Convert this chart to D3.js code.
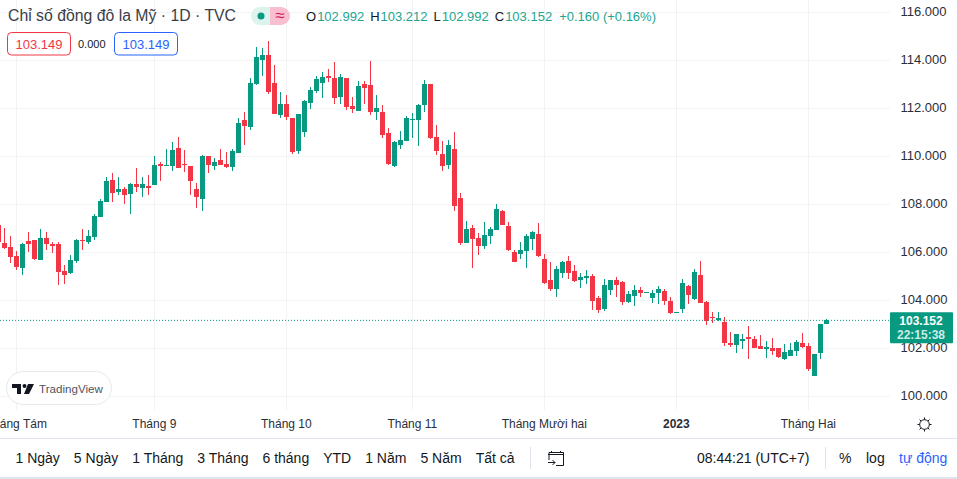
<!DOCTYPE html>
<html>
<head>
<meta charset="utf-8">
<script src="https://cdn.jsdelivr.net/npm/d3@7"></script>
<style>
html, body { margin: 0; padding: 0; background: #fff; overflow: hidden; }
svg { display: block; font-family: "Liberation Sans", Arial, sans-serif; }
</style>
</head>
<body>
<svg id="canvas"></svg>
<script>
let opens = [107.13,106.38,106.21,105.83,105.33,106.46,106.50,105.67,106.58,106.33,106.33,105.21,105.13,105.63,106.50,106.42,106.63,107.46,108.08,109.00,
108.50,108.63,108.42,108.83,108.67,108.75,108.79,109.67,109.58,109.58,110.33,109.67,109.58,108.63,108.21,110.00,109.58,109.83,109.67,109.54,
110.13,111.50,111.21,113.00,114.00,114.21,113.04,111.71,112.17,111.58,110.21,111.00,112.21,112.71,113.04,113.33,113.25,112.46,113.25,112.08,
111.88,113.00,112.96,111.83,111.83,110.96,109.58,110.46,110.63,111.50,111.50,112.13,113.00,110.79,110.08,109.63,110.29,108.25,106.38,107.00,
106.58,106.25,106.67,106.92,107.71,107.08,106.00,105.92,106.04,106.54,106.75,105.71,104.83,104.46,105.13,105.63,105.21,104.83,104.92,105.00,
104.08,103.63,104.42,104.83,104.75,103.92,104.17,104.42,104.29,104.08,104.29,104.38,103.96,103.46,103.63,104.58,104.04,105.04,103.92,103.29,
103.17,103.08,102.21,102.13,102.29,102.46,102.38,102.08,101.96,102.00,102.00,101.54,101.67,101.88,102.21,102.08,100.83,101.79,102.992];
let highs = [107.29,107.00,106.67,106.04,106.38,106.83,106.50,106.96,106.83,106.42,106.42,105.46,105.88,106.54,106.96,106.92,107.58,108.21,109.13,109.29,
109.13,108.71,108.88,109.50,109.13,109.21,110.00,109.75,110.29,110.58,110.79,110.25,109.58,108.88,110.04,110.00,109.92,110.29,110.17,110.29,
111.58,111.83,113.25,114.54,114.50,114.79,113.79,112.67,112.54,111.58,111.75,112.33,112.88,113.33,113.50,113.63,113.92,113.42,113.25,112.46,
113.13,113.13,113.96,112.54,112.13,111.17,110.63,111.04,111.67,111.79,112.17,113.17,113.00,111.29,110.63,110.67,111.00,108.46,107.29,107.13,
106.79,107.25,107.04,108.00,107.75,107.25,106.08,106.42,106.75,106.88,107.21,105.92,105.58,105.42,105.63,105.83,105.46,105.13,105.25,105.08,
104.17,104.88,104.83,104.96,104.79,104.38,104.63,104.54,104.33,104.42,104.58,104.46,104.13,103.50,104.88,104.63,105.29,105.63,103.96,103.50,
103.50,103.29,102.67,102.58,102.58,102.92,102.50,102.54,102.29,102.42,102.00,102.17,102.21,102.33,102.63,102.21,101.75,103.00,103.212];
let lows = [106.25,106.11,105.54,105.25,105.04,106.00,105.67,105.67,106.08,105.96,104.63,104.67,105.08,105.54,106.08,106.33,106.50,107.46,108.08,108.08,
108.38,108.00,107.58,108.50,108.29,108.38,108.79,108.96,109.58,109.38,109.50,109.33,108.38,107.83,107.71,109.29,109.42,109.63,109.50,109.38,
110.13,110.46,111.08,112.96,113.33,112.58,111.75,111.58,111.50,110.08,110.08,110.79,111.96,112.63,112.42,113.08,112.17,112.17,111.92,111.79,
111.88,112.17,111.71,111.50,110.75,109.63,109.54,110.29,110.63,110.75,110.42,111.83,110.71,110.04,109.38,109.46,107.71,106.29,106.38,105.33,
105.88,106.13,106.33,106.92,107.13,106.04,105.58,105.71,105.33,106.08,105.79,104.67,104.38,104.13,104.92,104.88,104.75,104.50,104.67,103.58,
103.46,103.54,104.21,104.13,103.79,103.88,103.75,104.13,104.29,103.88,103.83,103.79,103.42,103.46,103.46,103.83,104.00,103.88,102.96,103.04,
103.13,102.08,102.04,101.79,101.96,101.54,102.00,101.96,101.58,101.71,101.58,101.50,101.67,101.67,102.00,101.04,100.83,101.54,102.992];
let closes = [106.40,106.17,105.79,105.38,106.33,106.33,105.71,106.58,106.33,106.25,105.17,105.04,105.67,106.50,106.46,106.67,107.50,108.13,108.96,108.46,
108.63,108.38,108.83,108.71,108.83,108.67,109.63,109.58,109.63,110.25,109.50,109.63,108.96,108.29,110.00,109.63,109.75,109.63,109.54,110.21,
111.38,111.25,113.04,114.13,114.21,112.67,111.75,112.17,111.63,110.17,111.75,112.29,112.75,113.21,113.29,113.25,112.42,113.29,112.04,111.96,
112.92,112.83,111.83,112.00,110.88,109.67,110.58,110.67,111.58,111.54,112.13,113.00,110.75,110.21,109.58,110.46,107.92,106.38,106.96,106.54,
106.25,106.71,106.96,107.79,107.13,106.08,105.58,106.08,106.67,106.83,105.83,104.71,104.46,105.29,105.58,105.13,104.79,104.96,105.00,103.96,
103.58,104.63,104.83,104.63,103.92,104.25,104.42,104.29,104.33,104.29,104.46,103.96,103.46,103.50,104.71,104.21,105.17,103.88,103.13,103.25,
103.25,102.21,102.13,102.58,102.38,102.38,102.00,101.96,102.04,101.88,101.63,101.83,101.92,102.25,102.04,101.13,101.75,103.00,103.152];

let priceTicks = [100,102,104,106,108,110,112,114,116];
let monthBars = [3,26,48,69,91,113,135];
let monthLabels = ['Tháng Tám','Tháng 9','Tháng 10','Tháng 11','Tháng Mười hai','2023','Tháng Hai'];
let rangeLabels = ['1 Ngày','5 Ngày','1 Tháng','3 Tháng','6 tháng','YTD','1 Năm','5 Năm','Tất cả'];
let ohlcNames = ['O','H','L','C'];
let ohlcValues = ['102.992','103.212','102.992','103.152'];
let lastPrice = 103.152;

let width = 957;
let height = 479;
let paneRight = 890;
let paneBottom = 410;

const GREEN = '#089981', RED = '#f23645', BLUE = '#2962ff', INK = '#131722', GRID = '#f2f3f5';

let svg = d3.select('#canvas').attr('width', width).attr('height', height);

let xScale = d3.scaleLinear().domain([0, 138]).range([-1.67, 826.33]);
let yScale = d3.scaleLinear().domain([100, 116]).range([396, 12]);

/*grid lines*/
let grid = svg.append('g').attr('stroke', GRID).attr('shape-rendering', 'crispEdges');
grid.selectAll('.v').data(monthBars).enter().append('line')
    .attr('x1', d => xScale(d)).attr('x2', d => xScale(d))
    .attr('y1', 0).attr('y2', paneBottom);
grid.selectAll('.h').data(priceTicks).enter().append('line')
    .attr('x1', 0).attr('x2', paneRight)
    .attr('y1', d => yScale(d)).attr('y2', d => yScale(d));

/*price and time axes*/
let yAxis = d3.axisRight(yScale).tickValues(priceTicks).tickSize(0).tickFormat(d3.format('.3f'));
let yG = svg.append('g').attr('transform', 'translate(' + (paneRight + 10.5) + ',-1)').call(yAxis);
yG.select('.domain').remove();
yG.selectAll('text').attr('x', 0).attr('font-size', 13).attr('font-family', 'inherit').attr('fill', '#2a2e39');

let xAxis = d3.axisBottom(xScale).tickValues(monthBars).tickSize(0).tickFormat((d, i) => monthLabels[i]);
let xG = svg.append('g').attr('transform', 'translate(-0.5,' + paneBottom + ')').call(xAxis);
xG.select('.domain').remove();
xG.selectAll('text').attr('y', 9).attr('font-size', 12).attr('font-family', 'inherit').attr('fill', '#2a2e39')
    .attr('font-weight', (d, i) => monthLabels[i] === '2023' ? 'bold' : 'normal');

/*candles*/
let bars = d3.range(closes.length);
let colorOf = i => closes[i] >= opens[i] ? GREEN : RED;
svg.append('g').attr('shape-rendering', 'crispEdges').selectAll('line').data(bars).enter().append('line')
    .attr('x1', i => xScale(i)).attr('x2', i => xScale(i))
    .attr('y1', i => yScale(highs[i])).attr('y2', i => yScale(lows[i]))
    .attr('stroke', colorOf).attr('stroke-width', 1);
svg.append('g').attr('shape-rendering', 'crispEdges').selectAll('rect').data(bars).enter().append('rect')
    .attr('x', i => xScale(i) - 2.5).attr('width', 5)
    .attr('y', i => yScale(Math.max(opens[i], closes[i])))
    .attr('height', i => Math.max(1, Math.abs(yScale(opens[i]) - yScale(closes[i]))))
    .attr('fill', colorOf);

/*last price line and label*/
svg.append('line').attr('x1', 0).attr('x2', paneRight)
    .attr('y1', yScale(lastPrice)).attr('y2', yScale(lastPrice))
    .attr('stroke', GREEN).attr('stroke-dasharray', '1 2');
svg.append('rect').attr('x', paneRight).attr('y', yScale(lastPrice) - 8).attr('width', 63).attr('height', 31)
    .attr('rx', 1).attr('fill', GREEN);
svg.append('text').attr('x', 921).attr('y', yScale(lastPrice) + 4.5).attr('text-anchor', 'middle')
    .attr('font-size', 12).attr('font-weight', 'bold').attr('fill', '#fff').text(d3.format('.3f')(lastPrice));
svg.append('text').attr('x', 921).attr('y', yScale(lastPrice) + 19).attr('text-anchor', 'middle')
    .attr('font-size', 12).attr('font-weight', 'bold').attr('fill', '#cdebe5').text('22:15:38');

/*legend on top*/
svg.append('text').attr('x', 8).attr('y', 21).attr('font-size', 15.8).attr('fill', '#3a3e49')
    .text('Chỉ số đồng đô la Mỹ · 1D · TVC');

svg.append('path').attr('fill', '#dcf3ee')
    .attr('d', 'M270 7H260a9 9 0 0 0 0 18H270Z');
svg.append('path').attr('fill', '#f9bfd0')
    .attr('d', 'M270 7H281a9 9 0 0 1 0 18H270Z');
svg.append('circle').attr('cx', 261).attr('cy', 16).attr('r', 3.5).attr('fill', GREEN);
svg.append('text').attr('x', 280).attr('y', 21).attr('text-anchor', 'middle').attr('font-size', 17)
    .attr('fill', '#d81b60').text('≈');

let legend = svg.append('text').attr('x', 306).attr('y', 21).attr('font-size', 13);
ohlcNames.forEach((name, i) => {
    legend.append('tspan').attr('fill', INK).attr('dx', i ? 6 : 0).text(name);
    legend.append('tspan').attr('fill', '#22a58f').attr('dx', 1).text(ohlcValues[i]);
});
legend.append('tspan').attr('fill', '#22a58f').attr('dx', 7).text('+0.160 (+0.16%)');

let priceBox = (x, color, label) => {
    svg.append('rect').attr('x', x + 0.5).attr('y', 32.5).attr('width', 63).attr('height', 22.5).attr('rx', 4)
        .attr('fill', '#fff').attr('stroke', color);
    svg.append('text').attr('x', x + 32).attr('y', 49).attr('text-anchor', 'middle').attr('font-size', 13)
        .attr('fill', color).text(label);
};
priceBox(7, RED, '103.149');
priceBox(114, BLUE, '103.149');
svg.append('text').attr('x', 78).attr('y', 48).attr('font-size', 11).attr('fill', INK).text('0.000');

/*TradingView logo*/
svg.append('rect').attr('x', 6.5).attr('y', 371.5).attr('width', 105).attr('height', 33).attr('rx', 16.5)
    .attr('fill', '#fff').attr('stroke', '#e6e8ee');
svg.append('path').attr('fill', INK)
    .attr('d', 'M12 384H21V394H17V388H12ZM28 384H34L29 394H24Z');
svg.append('circle').attr('cx', 24.5).attr('cy', 386).attr('r', 2).attr('fill', INK);
svg.append('text').attr('x', 39).attr('y', 393).attr('font-size', 11.6).attr('fill', '#50535e').text('TradingView');

/*settings gear*/
let gear = svg.append('g').attr('transform', 'translate(924.5,424.5)').attr('stroke', INK).attr('fill', 'none');
gear.append('circle').attr('r', 4.8);
d3.range(8).forEach(k => {
    let a = k * Math.PI / 4;
    gear.append('line').attr('x1', 4.8 * Math.cos(a)).attr('y1', 4.8 * Math.sin(a))
        .attr('x2', 7 * Math.cos(a)).attr('y2', 7 * Math.sin(a));
});

/*bottom toolbar*/
svg.append('line').attr('x1', 0).attr('x2', width).attr('y1', 438.5).attr('y2', 438.5).attr('stroke', '#e0e3eb');
svg.append('rect').attr('x', 0).attr('y', 477).attr('width', width).attr('height', 2).attr('fill', '#e0e3eb');

let nextX = 15.5;
rangeLabels.forEach(label => {
    let t = svg.append('text').attr('x', nextX).attr('y', 463).attr('font-size', 14).attr('fill', INK).text(label);
    nextX += t.node().getComputedTextLength() + 14;
});

[530.5, 825.5].forEach(x => {
    svg.append('line').attr('x1', x).attr('x2', x).attr('y1', 447).attr('y2', 469).attr('stroke', '#e0e3eb');
});

svg.append('path').attr('fill', 'none').attr('stroke', INK)
    .attr('d', 'M548 454.5H564M551.5 451V453M560.5 451V453M549 460V452.5H563.5V465.5H556M548 462.5H555M552.5 460L555 462.5L552.5 465');

svg.append('text').attr('x', 697).attr('y', 463).attr('font-size', 14).attr('fill', INK).text('08:44:21 (UTC+7)');
svg.append('text').attr('x', 839).attr('y', 463).attr('font-size', 14).attr('fill', INK).text('%');
svg.append('text').attr('x', 866).attr('y', 463).attr('font-size', 14).attr('fill', INK).text('log');
svg.append('text').attr('x', 899).attr('y', 463).attr('font-size', 14).attr('fill', BLUE).text('tự động');
</script>
</body>
</html>
